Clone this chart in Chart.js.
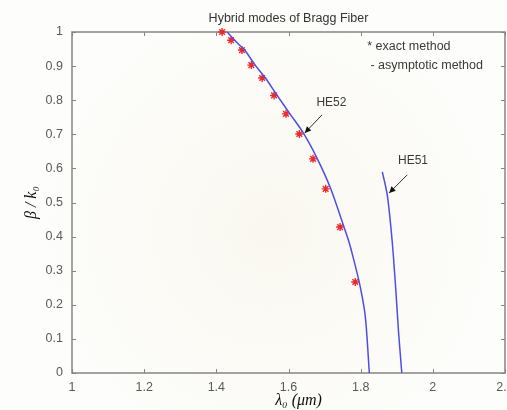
<!DOCTYPE html>
<html>
<head>
<meta charset="utf-8">
<script src="https://cdn.jsdelivr.net/npm/chart.js@4.4.1/dist/chart.umd.min.js"></script>
<style>
  html, body { margin: 0; padding: 0; background: #fdfcf9; }
  #wrap { width: 507px; height: 410px; }
</style>
</head>
<body>
<div id="wrap"><canvas id="myChart" width="507" height="410"></canvas></div>
<script>
/* data */
// exact method (red stars): wavelength in um, beta/k0
const exactX = [1.416, 1.441, 1.471, 1.497, 1.527, 1.560, 1.593, 1.630, 1.668, 1.703, 1.743, 1.785];
const exactY = [1.000, 0.976, 0.947, 0.903, 0.865, 0.814, 0.760, 0.701, 0.628, 0.540, 0.428, 0.267];

// asymptotic method, HE52 branch
const he52X = [1.430, 1.456, 1.480, 1.506, 1.536, 1.568, 1.604, 1.641, 1.680, 1.716, 1.750, 1.766, 1.779, 1.799, 1.813, 1.824];
const he52Y = [1.000, 0.970, 0.945, 0.905, 0.865, 0.815, 0.760, 0.704, 0.628, 0.543, 0.440, 0.390, 0.340, 0.252, 0.164, 0.000];

// asymptotic method, HE51 branch
const he51X = [1.860, 1.874, 1.887, 1.897, 1.905, 1.914];
const he51Y = [0.590, 0.520, 0.390, 0.250, 0.120, 0.000];

const xTicks = [1, 1.2, 1.4, 1.6, 1.8, 2, 2.2];
const yTicks = [0, 0.1, 0.2, 0.3, 0.4, 0.5, 0.6, 0.7, 0.8, 0.9, 1];

// mode labels with arrows: [text, textX, textY, tailX, tailY, tipX, tipY]
const modeLabels = [
  ['HE52', 1.719, 0.792, 1.693, 0.757, 1.645, 0.704],
  ['HE51', 1.945, 0.622, 1.929, 0.581, 1.879, 0.528]
];
const noteLines = [
  ['* exact method', 1.818, 0.958],
  ['- asymptotic method', 1.827, 0.902]
];

function pts(xs, ys) {
  return xs.map(function(x, i) { return { x: x, y: ys[i] }; });
}

const sans = '"Liberation Sans", Arial, sans-serif';
const serif = '"Liberation Serif", "DejaVu Serif", serif';

/* frame, inward ticks, annotations */
const framePlugin = {
  id: 'frame',
  beforeDraw: function(chart) {
    const c = chart.ctx;
    c.save();
    c.fillStyle = '#fdfdfb';
    c.fillRect(0, 0, chart.width, chart.height);
    const g = c.createRadialGradient(270, 230, 10, 270, 230, 230);
    g.addColorStop(0, 'rgba(236,228,200,0.22)');
    g.addColorStop(1, 'rgba(236,228,200,0)');
    c.fillStyle = g;
    c.fillRect(0, 0, chart.width, chart.height);
    c.restore();
  },
  beforeDatasetsDraw: function(chart) {
    const c = chart.ctx;
    const a = chart.chartArea;
    const xs = chart.scales.x, ys = chart.scales.y;
    c.save();
    c.strokeStyle = '#858585';
    c.lineWidth = 1.5;
    c.strokeRect(a.left, a.top, a.right - a.left, a.bottom - a.top);
    c.lineWidth = 1;
    c.beginPath();
    xTicks.forEach(function(v) {
      const p = Math.round(xs.getPixelForValue(v)) + 0.5;
      c.moveTo(p, a.bottom); c.lineTo(p, a.bottom - 4);
      c.moveTo(p, a.top); c.lineTo(p, a.top + 4);
    });
    yTicks.forEach(function(v) {
      const p = Math.round(ys.getPixelForValue(v)) + 0.5;
      c.moveTo(a.left, p); c.lineTo(a.left + 4, p);
      c.moveTo(a.right, p); c.lineTo(a.right - 4, p);
    });
    c.stroke();

    // x axis label, a little right of centre
    c.fillStyle = '#111';
    c.font = 'italic 16px ' + serif;
    c.textAlign = 'center';
    c.textBaseline = 'middle';
    c.fillText('λ₀ (μm)', (a.left + a.right) / 2 + 10, 401);
    c.restore();
  },
  afterDatasetsDraw: function(chart) {
    const c = chart.ctx;
    const xs = chart.scales.x, ys = chart.scales.y;
    c.save();
    c.font = '12px ' + sans;
    c.fillStyle = '#3a3a3a';
    c.textBaseline = 'middle';
    modeLabels.forEach(function(m) {
      c.textAlign = 'center';
      c.fillText(m[0], xs.getPixelForValue(m[1]), ys.getPixelForValue(m[2]));
      const x0 = xs.getPixelForValue(m[3]), y0 = ys.getPixelForValue(m[4]);
      const x1 = xs.getPixelForValue(m[5]), y1 = ys.getPixelForValue(m[6]);
      c.strokeStyle = '#333';
      c.lineWidth = 1;
      c.beginPath(); c.moveTo(x0, y0); c.lineTo(x1, y1); c.stroke();
      const ang = Math.atan2(y1 - y0, x1 - x0);
      c.fillStyle = '#111';
      c.beginPath();
      c.moveTo(x1, y1);
      c.lineTo(x1 - 7 * Math.cos(ang - 0.45), y1 - 7 * Math.sin(ang - 0.45));
      c.lineTo(x1 - 7 * Math.cos(ang + 0.45), y1 - 7 * Math.sin(ang + 0.45));
      c.closePath(); c.fill();
      c.fillStyle = '#3a3a3a';
    });
    c.font = '12.5px ' + sans;
    c.textAlign = 'left';
    noteLines.forEach(function(n) {
      c.fillText(n[0], xs.getPixelForValue(n[1]), ys.getPixelForValue(n[2]));
    });
    c.restore();
  }
};

/* chart */
const ctx = document.getElementById('myChart').getContext('2d');

new Chart(ctx, {
  type: 'scatter',
  data: {
    datasets: [{
      label: 'HE52',
      data: pts(he52X, he52Y),
      showLine: true,
      borderColor: '#4d4ee6',
      borderWidth: 1.5,
      pointRadius: 0,
      tension: 0.3,
      clip: false
    },
    {
      label: 'HE51',
      data: pts(he51X, he51Y),
      showLine: true,
      borderColor: '#4d4ee6',
      borderWidth: 1.5,
      pointRadius: 0,
      tension: 0.3,
      clip: false
    },
    {
      label: 'exact',
      data: pts(exactX, exactY),
      showLine: false,
      pointStyle: 'star',
      pointRadius: 4,
      borderColor: '#ec2a2a',
      borderWidth: 1.4,
      clip: false
    }]
  },
  options: {
    responsive: false,
    animation: false,
    layout: { autoPadding: false, padding: { top: 0, right: 2, left: 0, bottom: 0 } },
    plugins: {
      legend: { display: false },
      tooltip: { enabled: false },
      title: {
        display: true,
        text: 'Hybrid modes of Bragg Fiber',
        fullSize: false,
        color: '#333',
        font: { family: sans, size: 12.5, weight: 'normal' },
        padding: { top: 11, bottom: 6 }
      }
    },
    scales: {
      x: {
        type: 'linear',
        min: 1, max: 2.2,
        grid: { display: false, drawTicks: false },
        border: { display: false },
        afterBuildTicks: function(s) { s.ticks = xTicks.map(function(v) { return { value: v }; }); },
        afterFit: function(s) { s.height = 37; s.paddingLeft = 0; s.paddingRight = 0; },
        ticks: {
          color: '#5a5a5a',
          padding: 7,
          maxRotation: 0,
          autoSkip: false,
          font: { family: sans, size: 12.5 },
          callback: function(v) { return String(v); }
        }
      },
      y: {
        type: 'linear',
        min: 0, max: 1,
        grid: { display: false, drawTicks: false },
        border: { display: false },
        afterBuildTicks: function(s) { s.ticks = yTicks.map(function(v) { return { value: v }; }); },
        afterFit: function(s) { s.width = 72; s.paddingTop = 0; s.paddingBottom = 0; },
        ticks: {
          color: '#5a5a5a',
          padding: 9,
          autoSkip: false,
          font: { family: sans, size: 12.5 },
          callback: function(v) { return String(v); }
        },
        title: {
          display: true,
          text: 'β / k₀',
          color: '#111',
          font: { family: serif, size: 16, style: 'italic' },
          padding: { top: 22, bottom: 0 }
        }
      }
    }
  },
  plugins: [framePlugin]
});
</script>
</body>
</html>
